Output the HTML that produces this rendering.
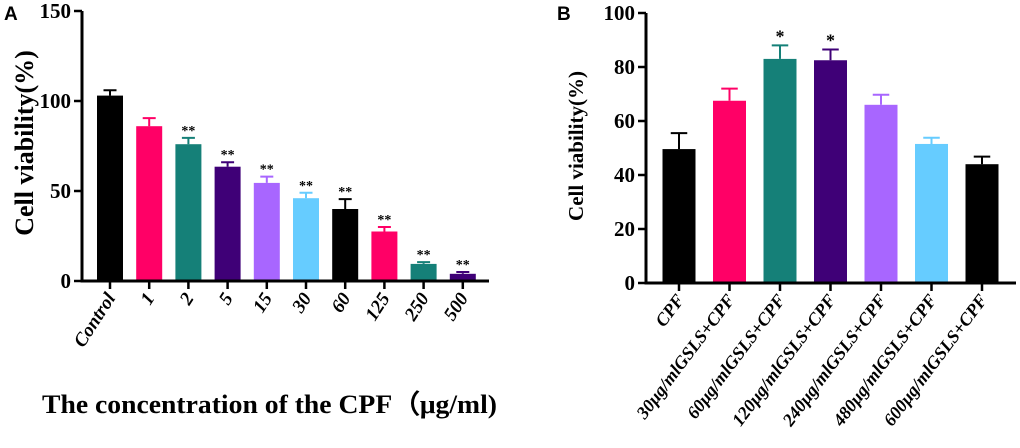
<!DOCTYPE html>
<html><head><meta charset="utf-8"><style>
body{margin:0;background:#fff;}
svg text{font-family:"Liberation Serif",serif;font-weight:bold;fill:#000;}
</style></head><body>
<svg id="chart" width="1020" height="443"></svg>
<script>
const catsA=["Control","1","2","5","15","30","60","125","250","500"];
const valsA=[103,86,76,63.5,54.5,46,40,27.5,9.5,4];
const errA=[106,90.5,79.5,66,58,49,45.5,30,10.5,5];
const sigA=["","","**","**","**","**","**","**","**","**"];
const ticksA=[0,50,100,150];
const catsB=["CPF","30μg/mlGSLS+CPF","60μg/mlGSLS+CPF","120μg/mlGSLS+CPF","240μg/mlGSLS+CPF","480μg/mlGSLS+CPF","600μg/mlGSLS+CPF"];
const valsB=[49.6,67.5,83,82.5,66,51.5,44];
const errB=[55.5,72,88,86.5,69.7,53.8,46.8];
const sigB=["","","*","*","","",""];
const ticksB=[0,20,40,60,80,100];
const colorsA=["#000000","#ff0066","#158078","#3f0077","#a866ff","#66ccff","#000000","#ff0066","#158078","#3f0077"];
const colorsB=["#000000","#ff0066","#158078","#3f0077","#a866ff","#66ccff","#000000"];
const svg=document.getElementById('chart');
const NS="http://www.w3.org/2000/svg";
function mk(tag,attrs,parent){const e=document.createElementNS(NS,tag);for(const k in attrs)e.setAttribute(k,attrs[k]);(parent||svg).appendChild(e);return e;}
function panel(o){
  const g=mk('g',{});
  
  
  const y=v=>o.y0-(v/o.max)*(o.y0-o.yTop);
  const x=i=>o.x0c+i*o.step;
  o.cats.forEach((c,i)=>{
    const b=mk('rect',{x:x(i)-o.bw/2,y:y(o.vals[i]),width:o.bw,height:o.y0-y(o.vals[i]),fill:o.colors[i]},g);
    
    
    const e=mk('path',{d:`M${x(i)},${y(o.vals[i])}V${y(o.errs[i])}M${x(i)-o.bw*0.25},${y(o.errs[i])}H${x(i)+o.bw*0.25}`,stroke:o.colors[i],'stroke-width':2,fill:'none'},g);
    
    
    if(o.sig[i]){const s=mk('text',{x:x(i),y:y(o.errs[i])-3,'text-anchor':'middle','font-size':o.sigSize},g);s.textContent=o.sig[i];
      
      }
    mk('line',{x1:x(i),x2:x(i),y1:o.y0,y2:o.y0+8,stroke:'#000','stroke-width':2.5},g);
    const t=mk('text',{transform:`translate(${x(i)+6},${o.y0+17}) rotate(${o.ang})`,'text-anchor':'end','font-size':o.lblSize,'font-style':'italic'},g);
    t.textContent=c;
    
    
  });
  mk('path',{d:`M${o.axX},${o.yTop}V${o.y0}H${o.xEnd}`,stroke:'#000','stroke-width':3,fill:'none'},g);
  o.ticks.forEach(v=>{
    mk('line',{x1:o.axX-8,x2:o.axX,y1:y(v),y2:y(v),stroke:'#000','stroke-width':2.5},g);
    const t=mk('text',{x:o.axX-11,y:y(v)+7,'text-anchor':'end','font-size':21},g);
    t.textContent=v;
    
    
  });
  const yt=mk('text',{transform:`translate(${o.ytX},${o.ytY}) rotate(-90)`,'text-anchor':'middle','font-size':o.ytSize},g);
  yt.textContent="Cell viability(%)";
  
  
  const pl=mk('text',{x:o.plX,y:20,'font-size':19,style:'font-family:"Liberation Sans",sans-serif'},g);
  pl.textContent=o.letter;
  
  
  return y;
}
panel({name:'panel-a',cats:catsA,vals:valsA,errs:errA,sig:sigA,colors:colorsA,ticks:ticksA,max:150,y0:281,yTop:11,axX:82,xEnd:489,x0c:110,step:39.2,bw:26,sigSize:14,lblSize:19,ang:-57,ytX:33,ytY:143,ytSize:26,plX:4,letter:'A'});
panel({name:'panel-b',cats:catsB,vals:valsB,errs:errB,sig:sigB,colors:colorsB,ticks:ticksB,max:100,y0:283,yTop:13,axX:646,xEnd:1016,x0c:679,step:50.5,bw:33,sigSize:18,lblSize:18,ang:-53,ytX:583,ytY:146,ytSize:21,plX:557,letter:'B'});
const xt=mk('text',{x:42,y:413,'font-size':26,textLength:455,lengthAdjust:'spacingAndGlyphs'});
xt.textContent="The concentration of the CPF（μg/ml)";


</script>
</body></html>
